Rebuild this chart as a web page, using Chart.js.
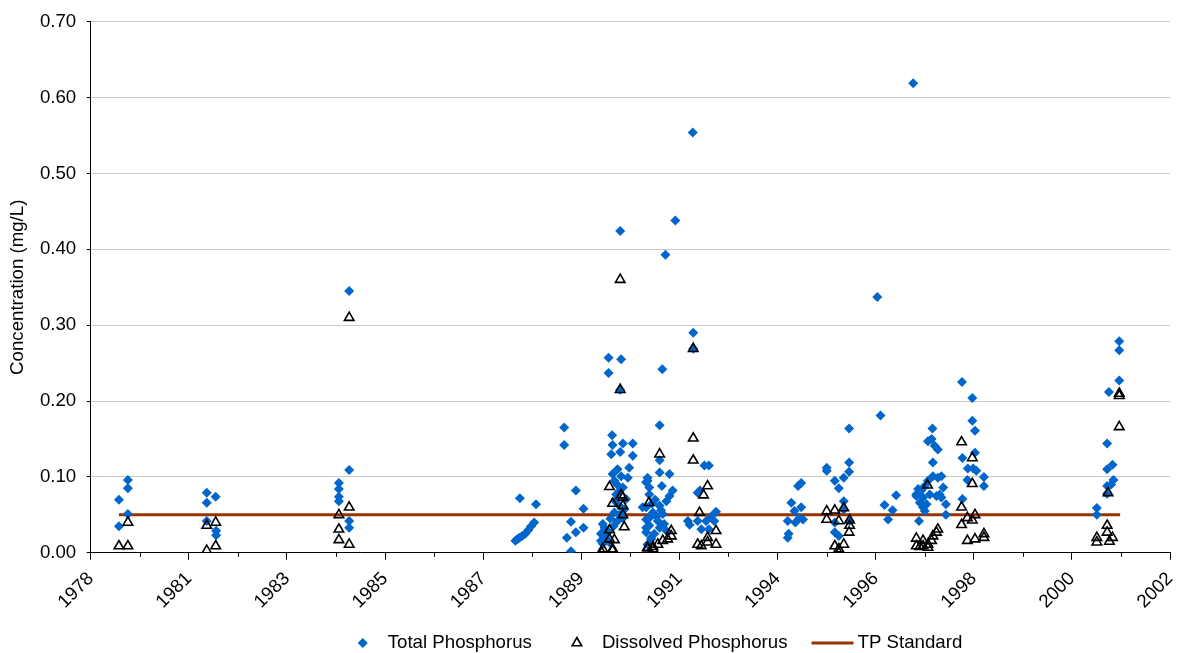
<!DOCTYPE html>
<html>
<head>
<meta charset="utf-8">
<script src="https://cdn.jsdelivr.net/npm/chart.js@4/dist/chart.umd.min.js"></script>
<style>
  html, body { margin: 0; padding: 0; background: #fff; }
</style>
</head>
<body>
<canvas id="chart" width="1182" height="653"></canvas>
<script>
// x values are decimal years, y values mg/L
const totalP = [
  [1979.68, 0.096], [1979.68, 0.085], [1979.48, 0.070], [1979.68, 0.051], [1979.48, 0.035],
  [1981.44, 0.079], [1981.64, 0.074], [1981.44, 0.066], [1981.44, 0.042], [1981.65, 0.029], [1981.65, 0.023],
  [1984.62, 0.345], [1984.62, 0.109], [1984.39, 0.092], [1984.39, 0.084], [1984.39, 0.074], [1984.39, 0.068],
  [1984.62, 0.042], [1984.62, 0.033],
  [1988.43, 0.072], [1988.79, 0.064], [1988.75, 0.040], [1988.68, 0.035], [1988.62, 0.030], [1988.55, 0.025],
  [1988.48, 0.022], [1988.42, 0.020], [1988.37, 0.018], [1988.33, 0.016],
  [1989.42, 0.165], [1989.42, 0.142], [1989.68, 0.082], [1989.85, 0.058], [1989.57, 0.041], [1989.85, 0.033],
  [1989.68, 0.027], [1989.48, 0.020], [1989.57, 0.002],
  [1990.67, 0.424], [1990.41, 0.257], [1990.69, 0.255], [1990.41, 0.237], [1990.67, 0.215], [1990.49, 0.155],
  [1990.50, 0.142], [1990.73, 0.144], [1990.95, 0.144], [1990.47, 0.130], [1990.67, 0.133], [1990.95, 0.128],
  [1990.87, 0.112], [1990.61, 0.110], [1990.50, 0.104], [1990.69, 0.101], [1990.84, 0.099], [1990.54, 0.095],
  [1990.73, 0.086], [1990.58, 0.077], [1990.80, 0.071], [1990.65, 0.062], [1990.54, 0.053], [1990.73, 0.046],
  [1990.61, 0.042], [1990.32, 0.033], [1990.24, 0.025], [1990.35, 0.020], [1990.24, 0.016], [1990.43, 0.014],
  [1990.28, 0.038], [1990.28, 0.012], [1990.56, 0.068], [1990.76, 0.057], [1990.66, 0.050], [1990.45, 0.045],
  [1990.52, 0.035], [1990.40, 0.028], [1990.60, 0.090], [1990.64, 0.080],
  [1991.28, 0.095], [1991.32, 0.086], [1991.25, 0.060], [1991.32, 0.046], [1991.25, 0.033], [1991.36, 0.020],
  [1991.28, 0.011], [1992.29, 0.554], [1991.90, 0.438], [1991.68, 0.393], [1992.30, 0.290], [1992.30, 0.269],
  [1991.61, 0.242], [1991.55, 0.168], [1991.55, 0.122], [1992.55, 0.115], [1992.65, 0.115], [1991.55, 0.106],
  [1991.77, 0.104], [1991.28, 0.099], [1991.25, 0.093], [1991.84, 0.082], [1991.32, 0.077], [1991.77, 0.075],
  [1992.40, 0.079], [1991.70, 0.068], [1991.55, 0.062], [1991.17, 0.060], [1992.81, 0.054], [1991.40, 0.053],
  [1991.62, 0.051], [1991.25, 0.044], [1992.18, 0.042], [1991.51, 0.042], [1992.40, 0.042], [1992.59, 0.042],
  [1992.77, 0.042], [1991.32, 0.036], [1991.55, 0.033], [1992.48, 0.031], [1992.65, 0.031], [1991.25, 0.027],
  [1991.43, 0.025], [1991.70, 0.029], [1991.36, 0.018], [1991.45, 0.070], [1991.60, 0.088], [1991.38, 0.065],
  [1991.48, 0.048], [1991.65, 0.038], [1991.58, 0.056], [1992.22, 0.037], [1992.70, 0.048], [1992.45, 0.082],
  [1994.71, 0.092], [1994.64, 0.088], [1994.49, 0.066], [1994.71, 0.060], [1994.56, 0.055], [1994.67, 0.046],
  [1994.41, 0.042], [1994.58, 0.040], [1994.75, 0.044], [1994.43, 0.025], [1994.41, 0.020],
  [1995.78, 0.164], [1995.78, 0.119], [1995.78, 0.107], [1995.28, 0.112], [1995.28, 0.108], [1995.66, 0.099],
  [1995.46, 0.095], [1995.55, 0.085], [1995.66, 0.068], [1995.66, 0.057], [1995.46, 0.040], [1995.46, 0.027],
  [1995.55, 0.022], [1995.79, 0.042],
  [1996.41, 0.337], [1996.48, 0.181], [1996.83, 0.076], [1996.57, 0.063], [1996.75, 0.056], [1996.65, 0.044],
  [1997.21, 0.619], [1997.64, 0.164], [1997.54, 0.147], [1997.62, 0.150], [1997.69, 0.141], [1997.76, 0.136],
  [1997.65, 0.119], [1997.32, 0.084], [1997.28, 0.075], [1997.36, 0.066], [1997.43, 0.060], [1997.34, 0.042],
  [1997.47, 0.088], [1997.54, 0.095], [1997.65, 0.101], [1997.76, 0.099], [1997.84, 0.101], [1997.88, 0.086],
  [1997.80, 0.077], [1997.73, 0.075], [1997.84, 0.073], [1997.94, 0.064], [1997.94, 0.050], [1997.58, 0.077],
  [1997.51, 0.064], [1997.47, 0.055], [1997.39, 0.082], [1997.28, 0.077], [1997.43, 0.073],
  [1998.30, 0.225], [1998.53, 0.204], [1998.53, 0.174], [1998.59, 0.161], [1998.59, 0.132], [1998.31, 0.125],
  [1998.43, 0.111], [1998.55, 0.111], [1998.62, 0.108], [1998.79, 0.100], [1998.42, 0.096], [1998.79, 0.088],
  [1998.31, 0.071],
  [2001.81, 0.279], [2001.81, 0.267], [2001.81, 0.227], [2001.58, 0.212], [2001.54, 0.144], [2001.66, 0.116],
  [2001.54, 0.110], [2001.68, 0.096], [2001.63, 0.090], [2001.54, 0.088], [2001.54, 0.078], [2001.31, 0.059],
  [2001.31, 0.050]
];

const dissolvedP = [
  [1979.68, 0.040], [1979.48, 0.009], [1979.68, 0.009],
  [1981.44, 0.036], [1981.64, 0.040], [1981.44, 0.003], [1981.64, 0.009],
  [1984.62, 0.310], [1984.62, 0.060], [1984.39, 0.050], [1984.39, 0.031], [1984.39, 0.017], [1984.62, 0.011],
  [1990.67, 0.360], [1990.67, 0.215], [1990.43, 0.087], [1990.69, 0.076], [1990.50, 0.065], [1990.73, 0.062],
  [1990.73, 0.050], [1990.76, 0.034], [1990.43, 0.030], [1990.43, 0.018], [1990.54, 0.017], [1990.28, 0.005],
  [1990.50, 0.005], [1990.26, 0.000], [1990.50, 0.003], [1990.73, 0.073],
  [1991.31, 0.066], [1991.28, 0.007], [1991.40, 0.005], [1991.55, 0.130], [1992.30, 0.269], [1992.30, 0.151],
  [1992.30, 0.122], [1992.62, 0.088], [1992.53, 0.076], [1992.44, 0.053], [1992.81, 0.029], [1991.81, 0.029],
  [1991.81, 0.022], [1991.73, 0.018], [1991.62, 0.016], [1991.51, 0.011], [1991.40, 0.008], [1991.28, 0.006],
  [1992.40, 0.011], [1992.48, 0.009], [1992.62, 0.014], [1992.62, 0.020], [1992.81, 0.011],
  [1995.28, 0.055], [1995.46, 0.056], [1995.66, 0.059], [1995.28, 0.044], [1995.55, 0.042], [1995.79, 0.043],
  [1995.79, 0.036], [1995.78, 0.027], [1995.46, 0.009], [1995.66, 0.011], [1995.55, 0.000], [1995.55, 0.005],
  [1997.53, 0.089], [1997.28, 0.019], [1997.28, 0.009], [1997.43, 0.016], [1997.43, 0.009], [1997.54, 0.011],
  [1997.62, 0.016], [1997.65, 0.022], [1997.73, 0.027], [1997.76, 0.031], [1997.54, 0.007], [1997.36, 0.008],
  [1998.29, 0.146], [1998.53, 0.125], [1998.53, 0.091], [1998.29, 0.060], [1998.29, 0.037], [1998.42, 0.046],
  [1998.53, 0.043], [1998.59, 0.050], [1998.42, 0.016], [1998.59, 0.018], [1998.79, 0.025], [1998.79, 0.020],
  [2001.81, 0.210], [2001.81, 0.207], [2001.81, 0.166], [2001.56, 0.079], [2001.54, 0.036], [2001.54, 0.027],
  [2001.66, 0.020], [2001.59, 0.015], [2001.31, 0.020], [2001.31, 0.014]
];

const tpStandard = 0.05;
const standardYears = [1979.48, 2001.83];

// date axis: starts Nov 1978, major unit 800 days
const xTickLabels = ['1978', '1981', '1983', '1985', '1987', '1989', '1991', '1994', '1996', '1998', '2000', '2002'];
const xMin = 1978.85;
const xStep = 800 / 365.25;
const yTicks = [0, 0.1, 0.2, 0.3, 0.4, 0.5, 0.6, 0.7];

Chart.defaults.font.family = "'Liberation Sans', Arial, sans-serif";
Chart.defaults.font.size = 18.67;
Chart.defaults.color = '#000';

const blue = '#0066CC';
const brown = '#993300';

// minor x ticks + Excel-style legend under the axis
const extras = {
  id: 'extras',
  afterDraw(chart) {
    const ctx = chart.ctx;
    const xs = chart.scales.x;
    const bottom = chart.chartArea.bottom;
    ctx.save();
    ctx.strokeStyle = '#000';
    ctx.lineWidth = 1;
    for (let i = 0; i < xTickLabels.length - 1; i++) {
      const px = Math.round(xs.getPixelForValue(xMin + (i + 0.5) * xStep)) + 0.5;
      ctx.beginPath();
      ctx.moveTo(px, bottom);
      ctx.lineTo(px, bottom + 4);
      ctx.stroke();
    }

    ctx.font = "18.67px 'Liberation Sans', Arial, sans-serif";
    ctx.textBaseline = 'middle';
    const symW = 42, gapText = 4, gapItem = 24;
    const sets = chart.data.datasets;
    const widths = sets.map(ds => ctx.measureText(ds.label).width);
    const total = widths.reduce((s, w) => s + symW + gapText + w, 0) + gapItem * (sets.length - 1);
    let x = 652 - total / 2;
    const y = 643;
    sets.forEach((ds, i) => {
      const mid = x + symW / 2;
      ctx.beginPath();
      if (ds.pointStyle === 'rectRot') {
        const r = 5;
        ctx.moveTo(mid - r, y);
        ctx.lineTo(mid, y - r);
        ctx.lineTo(mid + r, y);
        ctx.lineTo(mid, y + r);
        ctx.closePath();
        ctx.fillStyle = ds.backgroundColor;
        ctx.fill();
      } else if (ds.pointStyle === 'triangle') {
        const r = 5.5;
        ctx.moveTo(mid, y - r);
        ctx.lineTo(mid + r * 0.866, y + r / 2);
        ctx.lineTo(mid - r * 0.866, y + r / 2);
        ctx.closePath();
        ctx.lineWidth = ds.borderWidth;
        ctx.strokeStyle = ds.borderColor;
        ctx.stroke();
      } else {
        ctx.moveTo(x, y);
        ctx.lineTo(x + symW, y);
        ctx.lineWidth = ds.borderWidth;
        ctx.strokeStyle = ds.borderColor;
        ctx.stroke();
      }
      ctx.fillStyle = '#000';
      ctx.fillText(ds.label, x + symW + gapText, y);
      x += symW + gapText + widths[i] + gapItem;
    });
    ctx.restore();
  }
};

new Chart(document.getElementById('chart'), {
  type: 'scatter',
  data: {
    datasets: [
      {
        label: 'Total Phosphorus',
        data: totalP.map(([x, y]) => ({ x, y })),
        pointStyle: 'rectRot',
        pointRadius: 5,
        backgroundColor: blue,
        borderColor: blue,
        borderWidth: 0,
        order: 2
      },
      {
        label: 'Dissolved Phosphorus',
        data: dissolvedP.map(([x, y]) => ({ x, y })),
        pointStyle: 'triangle',
        pointRadius: 5.5,
        backgroundColor: 'rgba(0,0,0,0)',
        borderColor: '#000',
        borderWidth: 1.6,
        order: 1
      },
      {
        type: 'line',
        label: 'TP Standard',
        data: standardYears.map(x => ({ x, y: tpStandard })),
        showLine: true,
        borderColor: brown,
        borderWidth: 3,
        pointRadius: 0,
        fill: false,
        order: 3
      }
    ]
  },
  options: {
    responsive: false,
    animation: false,
    layout: { padding: { left: 4, right: 12, top: 18, bottom: 32 } },
    plugins: {
      legend: { display: false },
      tooltip: { enabled: false }
    },
    scales: {
      x: {
        type: 'linear',
        min: xMin,
        max: xMin + (xTickLabels.length - 1) * xStep,
        afterBuildTicks: (scale) => {
          scale.ticks = xTickLabels.map((l, i) => ({ value: xMin + i * xStep }));
        },
        afterFit: (scale) => {
          // rotated labels end at the tick, nothing sticks out on the right
          scale.paddingRight = 0;
        },
        ticks: {
          minRotation: 45,
          maxRotation: 45,
          padding: 8,
          autoSkip: false,
          callback: (v, i) => xTickLabels[i]
        },
        grid: { drawOnChartArea: false, tickLength: 7, tickColor: '#000' },
        border: { color: '#000', width: 1 }
      },
      y: {
        min: 0,
        max: 0.7,
        afterBuildTicks: (scale) => {
          scale.ticks = yTicks.map(v => ({ value: v }));
        },
        ticks: {
          padding: 10.5,
          callback: (v) => v.toFixed(2)
        },
        grid: { color: '#C8C8C8', tickLength: 4, tickColor: '#000' },
        border: { color: '#000', width: 1 },
        title: {
          display: true,
          text: 'Concentration (mg/L)',
          padding: { top: 3, bottom: 0 }
        }
      }
    }
  },
  plugins: [extras]
});
</script>
